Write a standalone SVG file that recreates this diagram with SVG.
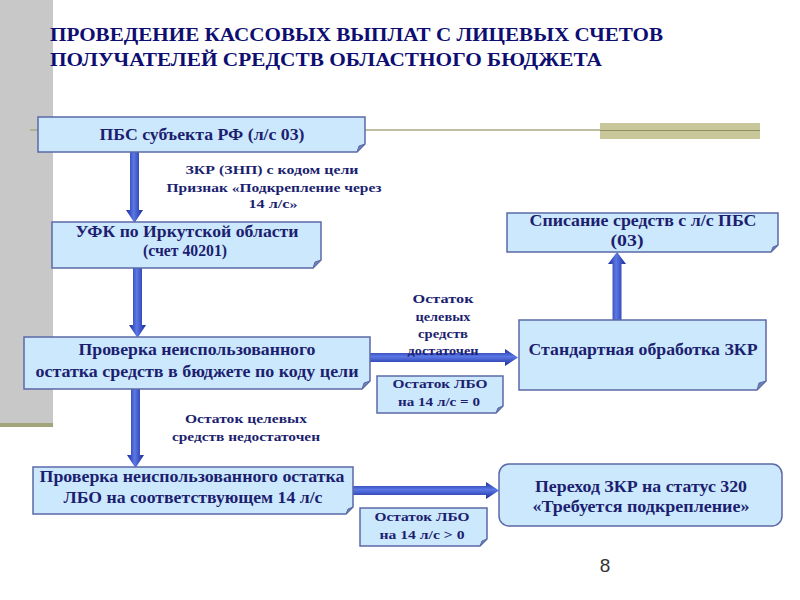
<svg xmlns="http://www.w3.org/2000/svg" width="800" height="600" viewBox="0 0 800 600">
<defs>
<linearGradient id="gv" x1="0" y1="0" x2="1" y2="0">
<stop offset="0" stop-color="#1a2a98"/><stop offset="0.45" stop-color="#5a78e6"/><stop offset="1" stop-color="#1a2a98"/>
</linearGradient>
<linearGradient id="gh" x1="0" y1="0" x2="0" y2="1">
<stop offset="0" stop-color="#1a2a98"/><stop offset="0.45" stop-color="#5a78e6"/><stop offset="1" stop-color="#1a2a98"/>
</linearGradient>
</defs>
<style>
.box{fill:#cce8fc;stroke:#5b6aa6;stroke-width:1.5}
.fold{fill:#6f7fb8;stroke:#5b6aa6;stroke-width:1}
.t{font-family:"Liberation Serif","Times New Roman",serif;font-weight:bold;fill:#1c1f70;text-anchor:middle}
.b{font-size:17px}
.s{font-size:13px}
.lbl{font-size:13px}
.title{font-family:"Liberation Serif","Times New Roman",serif;font-weight:bold;font-size:19.5px;fill:#0d0d72}
.av{fill:url(#gv)}
.ah{fill:url(#gh)}
</style>
<rect width="800" height="600" fill="#ffffff"/>
<rect x="0" y="0" width="53" height="424" fill="#c8c8c8"/>
<rect x="0" y="423" width="53" height="4" fill="#a3a37c"/>
<line x1="30" y1="130" x2="760" y2="130" stroke="#a8a880" stroke-width="1.5"/>
<rect x="600" y="123" width="160" height="16" fill="#c7c79a"/>
<line x1="600" y1="130.5" x2="760" y2="130.5" stroke="#8f8f6a" stroke-width="1.2"/>
<text class="title" x="50" y="40.5" textLength="613" lengthAdjust="spacingAndGlyphs">ПРОВЕДЕНИЕ КАССОВЫХ ВЫПЛАТ С ЛИЦЕВЫХ СЧЕТОВ</text>
<text class="title" x="50" y="66" textLength="552" lengthAdjust="spacingAndGlyphs">ПОЛУЧАТЕЛЕЙ СРЕДСТВ ОБЛАСТНОГО БЮДЖЕТА</text>
<g id="connectors">
<path class="av" d="M130,152 H139 V210 H143 L134.5,223 L126,210 H130 Z"/>
<path class="av" d="M133,268 H142 V325 H146 L137.5,338 L129,325 H133 Z"/>
<path class="av" d="M131,389 H140 V455 H144 L135.5,468 L127,455 H131 Z"/>
<path class="ah" d="M370,353 H505 V349 L518,357.5 L505,366 V362 H370 Z"/>
<path class="ah" d="M353,486 H486 V482 L499,490.5 L486,499 V495 H353 Z"/>
<path class="av" d="M612.5,320 V264 H608 L617,252 L626,264 H621.5 V320 Z"/>
</g>
<g id="pbs">
<path class="box" d="M38,117 H365 V144 L357,152 H38 Z"/>
<path class="fold" d="M357,152 L365,144 L359,146 Z"/>
<text class="t b" x="202" y="140" textLength="205" lengthAdjust="spacingAndGlyphs">ПБС субъекта РФ (л/с 03)</text>
</g>
<g id="lbl1">
<text class="t s" x="272" y="174" textLength="173" lengthAdjust="spacingAndGlyphs">ЗКР (ЗНП) с кодом цели</text>
<text class="t s" x="274" y="192" textLength="215" lengthAdjust="spacingAndGlyphs">Признак «Подкрепление через</text>
<text class="t s" x="273" y="208" textLength="49" lengthAdjust="spacingAndGlyphs">14 л/с»</text>
</g>
<g id="ufk">
<path class="box" d="M52,222 H321 V260 L313,268 H52 Z"/>
<path class="fold" d="M313,268 L321,260 L315,262 Z"/>
<text class="t b" x="187" y="237" textLength="223" lengthAdjust="spacingAndGlyphs">УФК по Иркутской области</text>
<text class="t b" x="185" y="256" textLength="84" lengthAdjust="spacingAndGlyphs">(счет 40201)</text>
</g>
<g id="check1">
<path class="box" d="M24,337 H370 V381 L362,389 H24 Z"/>
<path class="fold" d="M362,389 L370,381 L364,383 Z"/>
<text class="t b" x="197" y="355" textLength="237" lengthAdjust="spacingAndGlyphs">Проверка неиспользованного</text>
<text class="t b" x="197" y="377" textLength="323" lengthAdjust="spacingAndGlyphs">остатка средств в бюджете по коду цели</text>
</g>
<g id="lbl2">
<text class="t lbl" x="443" y="303" textLength="61" lengthAdjust="spacingAndGlyphs">Остаток</text>
<text class="t lbl" x="443" y="321" textLength="55" lengthAdjust="spacingAndGlyphs">целевых</text>
<text class="t lbl" x="443" y="338" textLength="50" lengthAdjust="spacingAndGlyphs">средств</text>
<text class="t lbl" x="443" y="355" textLength="71" lengthAdjust="spacingAndGlyphs">достаточен</text>
</g>
<g id="lbo0">
<path class="box" d="M377,376 H503 V406 L496,413 H377 Z"/>
<path class="fold" d="M496,413 L503,406 L498,408 Z"/>
<text class="t s" x="440" y="388" textLength="95" lengthAdjust="spacingAndGlyphs">Остаток ЛБО</text>
<text class="t s" x="439" y="406" textLength="82" lengthAdjust="spacingAndGlyphs">на 14 л/с = 0</text>
</g>
<g id="lbl3">
<text class="t lbl" x="246" y="423" textLength="122" lengthAdjust="spacingAndGlyphs">Остаток целевых</text>
<text class="t lbl" x="246" y="441" textLength="148" lengthAdjust="spacingAndGlyphs">средств недостаточен</text>
</g>
<g id="check2">
<path class="box" d="M33,467 H353 V507 L346,514 H33 Z"/>
<path class="fold" d="M346,514 L353,507 L348,509 Z"/>
<text class="t b" x="192" y="482" textLength="305" lengthAdjust="spacingAndGlyphs">Проверка неиспользованного остатка</text>
<text class="t b" x="193" y="503" textLength="259" lengthAdjust="spacingAndGlyphs">ЛБО на соответствующем 14 л/с</text>
</g>
<g id="lbo1">
<path class="box" d="M360,508 H487 V539 L480,546 H360 Z"/>
<path class="fold" d="M480,546 L487,539 L482,541 Z"/>
<text class="t s" x="422" y="521" textLength="95" lengthAdjust="spacingAndGlyphs">Остаток ЛБО</text>
<text class="t s" x="422" y="539" textLength="85" lengthAdjust="spacingAndGlyphs">на 14 л/с &gt; 0</text>
</g>
<g id="spis">
<path class="box" d="M507,213 H778 V245 L771,252 H507 Z"/>
<path class="fold" d="M771,252 L778,245 L773,247 Z"/>
<text class="t b" x="643" y="226" textLength="227" lengthAdjust="spacingAndGlyphs">Списание средств с л/с ПБС</text>
<text class="t b" x="627" y="246" textLength="33" lengthAdjust="spacingAndGlyphs">(03)</text>
</g>
<g id="std">
<path class="box" d="M519,320 H766 V381 L757,390 H519 Z"/>
<path class="fold" d="M757,390 L766,381 L759,383 Z"/>
<text class="t b" x="643" y="355" textLength="229" lengthAdjust="spacingAndGlyphs">Стандартная обработка ЗКР</text>
</g>
<g id="status">
<rect class="box" x="499" y="464" width="283" height="62" rx="10"/>
<text class="t b" x="641" y="492" textLength="212" lengthAdjust="spacingAndGlyphs">Переход ЗКР на статус 320</text>
<text class="t b" x="641" y="512" textLength="217" lengthAdjust="spacingAndGlyphs">«Требуется подкрепление»</text>
</g>
<text x="605" y="572" font-family="Liberation Sans, sans-serif" font-size="19" fill="#333333" text-anchor="middle">8</text>
</svg>
